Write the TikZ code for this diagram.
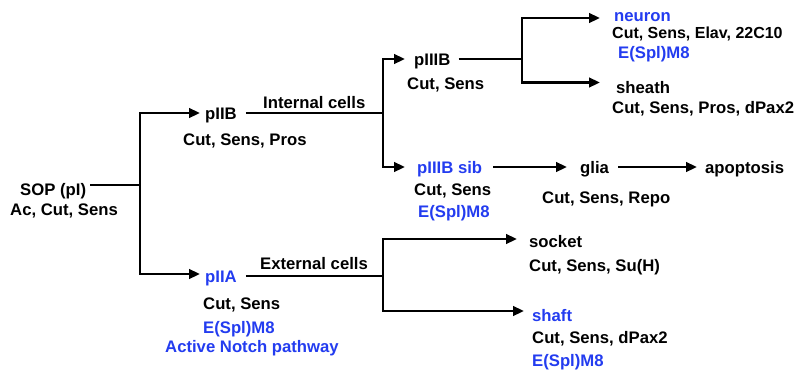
\documentclass[tikz,border=0pt]{standalone}
\usepackage{fontspec}
\setmainfont{Liberation Sans}
\usetikzlibrary{arrows.meta}
\definecolor{cblue}{RGB}{35,60,240}
\tikzset{
  txt/.style={font=\fontsize{16.7}{20}\selectfont\bfseries, inner sep=0pt, anchor=base west, text height=12pt, text depth=0pt},
  btxt/.style={txt, text=cblue},
  ln/.style={line width=2.6pt, line join=miter},
  arr/.style={ln, -{Triangle[length=11pt,width=9.5pt]}}
}
\begin{document}
\begin{tikzpicture}[x=1pt,y=-1pt]
\useasboundingbox[fill=white] (0,0) rectangle (798,373);
% nodes
\node[txt]  (sop)     at (20,195)  {SOP (pI)};
\node[txt]  (sopm)    at (10,215)  {Ac, Cut, Sens};
\node[txt]  (piib)    at (205,119) {pIIB};
\node[txt]  (intl)    at (263,108) {Internal cells};
\node[txt]  (piibm)   at (183,145) {Cut, Sens, Pros};
\node[btxt] (piia)    at (205,282) {pIIA};
\node[txt]  (extl)    at (260,269) {External cells};
\node[txt]  (piiam)   at (203,309) {Cut, Sens};
\node[btxt] (piiae)   at (203,333) {E(Spl)M8};
\node[btxt] (piian)   at (165,352) {Active Notch pathway};
\node[txt]  (piiib)   at (414,65)  {pIIIB};
\node[txt]  (piiibm)  at (407,89)  {Cut, Sens};
\node[btxt] (neuron)  at (614,21)  {neuron};
\node[txt, font=\fontsize{16}{19}\selectfont\bfseries]  (neuronm) at (612,38)  {Cut, Sens, Elav, 22C10};
\node[btxt] (neurone) at (618,58)  {E(Spl)M8};
\node[txt]  (sheath)  at (616,93)  {sheath};
\node[txt]  (sheathm) at (612,113) {Cut, Sens, Pros, dPax2};
\node[btxt] (sib)     at (417,173) {pIIIB sib};
\node[txt]  (sibm)    at (414,195) {Cut, Sens};
\node[btxt] (sibe)    at (418,217) {E(Spl)M8};
\node[txt]  (glia)    at (580,173) {glia};
\node[txt]  (gliam)   at (542,203) {Cut, Sens, Repo};
\node[txt]  (apop)    at (705,173) {apoptosis};
\node[txt]  (socket)  at (529,247) {socket};
\node[txt]  (socketm) at (529,271) {Cut, Sens, Su(H)};
\node[btxt] (shaft)   at (532,321) {shaft};
\node[txt]  (shaftm)  at (532,343) {Cut, Sens, dPax2};
\node[btxt] (shafte)  at (532,366) {E(Spl)M8};
% junctions
\coordinate (j1) at (140,185);
\coordinate (j2) at (383,113);
\coordinate (j3) at (522,59);
\coordinate (j4) at (383,276);
% connectors
\draw[ln, shorten <=4pt] ([yshift=4pt]sop.east) -- (j1);
\draw[arr, shorten >=5pt] (j1) |- (piib.west);
\draw[arr, shorten >=5pt] (j1) |- ([yshift=2pt]piia.west);
\draw[ln, shorten <=9pt] (piib.east) -- (j2);
\draw[arr, shorten >=9pt] (j2) |- (piiib.west);
\draw[arr, shorten >=12pt] (j2) |- (sib.west);
\draw[ln, shorten <=8pt] (piiib.east) -- (j3);
\draw[arr, shorten >=14pt] (j3) |- ([yshift=-3pt]neuron.west);
\draw[arr, shorten >=16pt] (j3) |- ([yshift=4.5pt]sheath.west);
\draw[arr, shorten <=11pt, shorten >=13pt] (sib.east) -- (glia.west);
\draw[arr, shorten <=9pt, shorten >=8pt] (glia.east) -- (apop.west);
\draw[ln, shorten <=9pt] (piia.east) -- (j4);
\draw[arr, shorten >=12pt] (j4) |- ([yshift=2pt]socket.west);
\draw[arr, shorten >=8pt] (j4) |- ([yshift=4pt]shaft.west);
\end{tikzpicture}
\end{document}
